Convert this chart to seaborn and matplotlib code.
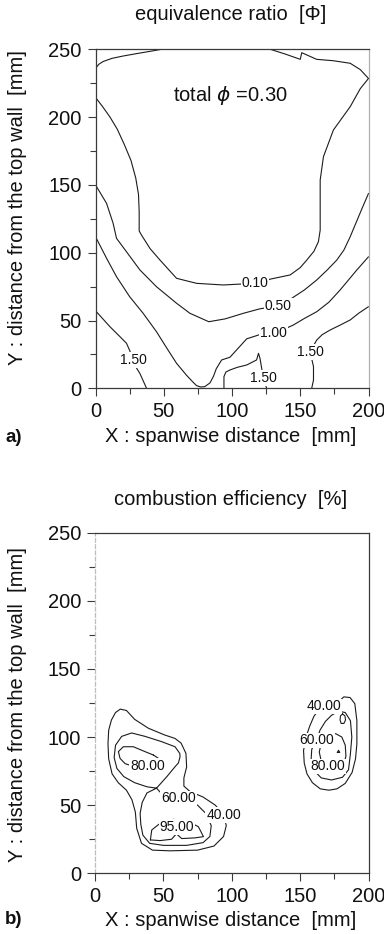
import matplotlib
matplotlib.use("Agg")
import matplotlib.pyplot as plt
import seaborn as sns
import pandas as pd
from matplotlib.ticker import MultipleLocator

sns.set_theme(style="ticks")
plt.rcParams["font.family"] = ["Liberation Sans", "DejaVu Sans"]
plt.rcParams["mathtext.fontset"] = "dejavusans"

# ---------------- panel a: equivalence ratio contours (x, y in mm) ----------------
PHI_CAP_LEFT_X = [0, 2.5, 5.6, 12, 20, 30, 40, 48.4]
PHI_CAP_LEFT_Y = [236, 239, 241, 243.3, 245, 246.8, 248.5, 250]

PHI_CAP_RIGHT_X = [128, 139, 150, 151.1, 162, 174, 186.6, 194, 200]
PHI_CAP_RIGHT_Y = [250, 246.5, 242.6, 247.5, 242.6, 241.6, 239.7, 235, 228.5]

PHI_010_X = [0, 5, 10.5, 16, 21, 26, 29.5, 31.5, 32, 32, 33.7, 40, 47.2, 59.4, 74.1,
             93.6, 105, 116.9, 128, 142.6, 150, 154.8, 160, 163.3, 164.6, 164.6, 167,
             174.3, 186.6, 194, 200]
PHI_010_Y = [214.5, 208, 200.2, 191, 180, 168, 155, 143, 130, 116, 113, 103, 94.6, 81.1,
             77.4, 76.2, 76.8, 77.3, 80.5, 83.6, 89, 94.6, 101, 108.1, 116.6, 153.6,
             170.8, 190.5, 207.7, 221, 228.5]

PHI_050_X = [0, 8.1, 12.9, 15.4, 22.7, 32.5, 44.7, 59.4, 69.2, 83, 95, 108.3, 120, 134,
             143.8, 153, 162.1, 170, 176.8, 182, 186.6, 190, 195, 200]
PHI_050_Y = [150, 136.4, 121.7, 110.6, 100.7, 87.3, 74.9, 62.7, 55.3, 49.1, 51.2, 55.3,
             58.5, 61, 66.4, 72.5, 79.9, 87.5, 94.6, 102, 111.8, 120, 132, 143.7]

PHI_100_X = [0, 8.1, 15.4, 25, 34.9, 44.7, 52, 59.4, 66.7, 71, 74, 77, 80, 83.9, 86.5,
             88.5, 92.4, 98.5, 103.4, 110.8, 121, 130.3, 138, 145, 153, 162.1, 171,
             179.2, 191.4, 200]
PHI_100_Y = [111.8, 95.9, 82.3, 67.6, 55.3, 41.7, 30, 18.4, 9.6, 5, 2, 1, 1.2, 4, 9,
             14.5, 20.9, 22.9, 28.3, 36.5, 39.8, 40.5, 43.5, 46.7, 51.5, 56.5, 63.5,
             72.5, 87.2, 97]

PHI_150_LEFT_X = [0, 10.5, 18, 22.7, 25, 27.6, 30, 32.5, 37.4]
PHI_150_LEFT_Y = [57.2, 45.5, 38, 33.2, 28, 20.9, 15, 11, 0]

PHI_150_MID_X = [94.1, 94.1, 95.5, 98.5, 104, 110.8, 118, 119.4, 120.5, 123, 125.4]
PHI_150_MID_Y = [0, 8.6, 12, 13.5, 15.5, 17.2, 20.9, 25.8, 22.1, 7.4, 0]

PHI_150_RIGHT_X = [200, 193, 186.6, 179, 171.9, 166, 162.1, 157.2, 159.7, 159.7, 158.4]
PHI_150_RIGHT_Y = [60.2, 55.5, 50.4, 46.5, 43, 39.5, 35.6, 27, 16, 6.1, 0]

PHI_LABELS = ["0.10", "0.50", "1.00", "1.50", "1.50", "1.50"]
PHI_LABEL_X = [116.9, 134, 130.3, 27.6, 123, 157.2]
PHI_LABEL_Y = [77.3, 61, 40.5, 20.9, 7.4, 27]

# ---------------- panel b: combustion efficiency contours (x, y in mm) ----------------
EFF_40_LEFT_X = [94, 96, 94, 87, 75, 55, 42, 34, 30.5, 29.5, 27, 23, 17, 12.5, 10, 9.5,
                 10, 12, 15, 18.5, 23, 29, 39, 51, 58.5, 63, 66.5, 67, 65, 65, 69.5, 79,
                 88, 94]
EFF_40_LEFT_Y = [43, 35, 27, 20, 17, 16.5, 17, 22, 33, 45, 54, 61, 66.5, 73, 84, 95,
                 105, 112.5, 118, 120.5, 119.5, 113, 106.5, 101.5, 99, 95.5, 88, 78, 70,
                 64, 60, 56, 50, 43]

EFF_60_LEFT_X = [45, 38, 29, 21, 16, 14, 15, 19.5, 26.8, 36.6, 48.8, 58.5, 62, 62.2, 61,
                 58.5, 52.5, 45, 50, 55, 61, 68, 75, 81, 85, 84, 79, 67, 50, 40, 35,
                 33.5, 33, 34.5, 38, 45]
EFF_60_LEFT_Y = [62.5, 63.5, 66.5, 71, 77, 85, 94, 100.5, 103, 100.5, 96.6, 92.9, 88,
                 85.6, 81, 78.2, 70.9, 62.5, 57, 55, 55, 53.5, 50, 44, 35, 27, 22.5,
                 20.5, 20.5, 22, 28, 36, 44, 52, 59, 62.5]

EFF_80_LEFT_X = [42.7, 36.6, 28, 20.7, 17.1, 18.3, 22, 28, 38.5, 46, 47, 42.7]
EFF_80_LEFT_Y = [86.8, 89.3, 92.9, 92.9, 89.3, 84.4, 80.5, 78.5, 78.5, 80, 84, 86.8]

EFF_95_X = [40.5, 41.5, 47.6, 57.3, 67, 75.6, 79.3, 73.2, 63.4, 59.5, 56, 47.6, 40.5]
EFF_95_Y = [24.5, 31.8, 36.7, 39.6, 38.6, 34.2, 26.9, 26, 25.5, 29, 25, 24, 24.5]

EFF_40_RIGHT_X = [167.5, 177, 182, 186.5, 190, 191.5, 191.5, 190.5, 188, 183, 177, 171,
                  164.7, 159, 155, 153, 152.5, 154, 157, 160, 163, 167.5]
EFF_40_RIGHT_Y = [122.5, 125, 129.5, 129, 124.5, 112, 95, 84, 74, 66, 62, 61, 62, 66.5,
                  73, 81, 90, 99, 108, 115, 119.5, 122.5]

EFF_60_RIGHT_X = [162, 164.5, 168.5, 173, 178, 183, 186.8, 187.8, 186.8, 185.4, 181, 173,
                  165.5, 160.5, 158, 158.5, 162]
EFF_60_RIGHT_Y = [97.5, 105, 111.5, 116, 119, 118, 112, 100, 88, 76, 70.5, 68.5, 70, 75,
                  83, 91, 97.5]

EFF_80_RIGHT_X = [170, 165.5, 164, 165.5, 170, 176, 180.5, 183, 183.5, 182, 178, 170]
EFF_80_RIGHT_Y = [78.5, 82, 89, 96, 101, 102.5, 100, 94, 86, 80.5, 78, 78.5]

EFF_ISLAND_X = [181, 182.8, 183.2, 182, 180, 179.2, 179.5, 181]
EFF_ISLAND_Y = [117, 115.5, 112.5, 110, 110, 112.5, 115.5, 117]

EFF_PEAK_X = [177.2, 178.1, 179, 177.2]
EFF_PEAK_Y = [88.7, 90.3, 88.7, 88.7]

EFF_LABELS = ["80.00", "60.00", "40.00", "95.00", "40.00", "60.00", "80.00"]
EFF_LABEL_X = [38.5, 61, 94, 59.8, 167.5, 162, 170]
EFF_LABEL_Y = [78.8, 55, 43, 34.2, 122.5, 97.5, 78.5]

AXIS_TICKS_X = [0, 50, 100, 150, 200]
AXIS_TICKS_Y = [0, 50, 100, 150, 200, 250]

LINE = "#1c1c1c"
SPINE = "#3a3a3a"
BIG = 14.5

W, H = 384, 934
fig = plt.figure(figsize=(W / 100, H / 100), dpi=100)
fig.patch.set_facecolor("white")

ax_a = fig.add_axes([95.5 / W, 1 - 388.3 / H, 273 / W, 339 / H])
ax_b = fig.add_axes([95.0 / W, 1 - 873.3 / H, 273.5 / W, 340.6 / H])


def draw_lines(ax, lines):
    for xs, ys in lines:
        df = pd.DataFrame({"x": xs, "y": ys})
        sns.lineplot(data=df, x="x", y="y", sort=False, estimator=None, ax=ax,
                     color=LINE, lw=0.8, legend=False)


def draw_labels(ax, texts, xs, ys):
    for s, x, y in zip(texts, xs, ys):
        ax.text(x, y, s, fontsize=10, ha="center", va="center", color="#111111",
                zorder=5, bbox=dict(boxstyle="square,pad=0.06", fc="white", ec="none"))


def style_axes(ax):
    ax.set_xlim(0, 200)
    ax.set_ylim(0, 250)
    ax.set_xticks(AXIS_TICKS_X)
    ax.set_yticks(AXIS_TICKS_Y)
    ax.xaxis.set_minor_locator(MultipleLocator(25))
    ax.yaxis.set_minor_locator(MultipleLocator(25))
    ax.tick_params(which="major", direction="out", length=5.5, width=0.8,
                   color=SPINE, labelsize=BIG, labelcolor="#111111", pad=4.5)
    ax.tick_params(which="minor", direction="out", length=4.5, width=0.8, color=SPINE)
    ax.set_xlabel("")
    ax.set_ylabel("")
    for sp in ax.spines.values():
        sp.set_visible(True)
        sp.set_color(SPINE)
        sp.set_linewidth(0.9)
    ax.set_facecolor("white")


draw_lines(ax_a, [
    (PHI_CAP_LEFT_X, PHI_CAP_LEFT_Y),
    (PHI_CAP_RIGHT_X, PHI_CAP_RIGHT_Y),
    (PHI_010_X, PHI_010_Y),
    (PHI_050_X, PHI_050_Y),
    (PHI_100_X, PHI_100_Y),
    (PHI_150_LEFT_X, PHI_150_LEFT_Y),
    (PHI_150_MID_X, PHI_150_MID_Y),
    (PHI_150_RIGHT_X, PHI_150_RIGHT_Y),
])
draw_labels(ax_a, PHI_LABELS, PHI_LABEL_X, PHI_LABEL_Y)
ax_a.text(98.5, 216, "total $\\phi$ =0.30", fontsize=BIG, ha="center", va="center",
          color="#111111")
style_axes(ax_a)
ax_a.spines["right"].set_color("#b0b0b0")

draw_lines(ax_b, [
    (EFF_40_LEFT_X, EFF_40_LEFT_Y),
    (EFF_60_LEFT_X, EFF_60_LEFT_Y),
    (EFF_80_LEFT_X, EFF_80_LEFT_Y),
    (EFF_95_X, EFF_95_Y),
    (EFF_40_RIGHT_X, EFF_40_RIGHT_Y),
    (EFF_60_RIGHT_X, EFF_60_RIGHT_Y),
    (EFF_80_RIGHT_X, EFF_80_RIGHT_Y),
    (EFF_ISLAND_X, EFF_ISLAND_Y),
    (EFF_PEAK_X, EFF_PEAK_Y),
])
draw_labels(ax_b, EFF_LABELS, EFF_LABEL_X, EFF_LABEL_Y)
style_axes(ax_b)
ax_b.spines["left"].set_color("#bdbdbd")
ax_b.spines["left"].set_linestyle((0, (3, 2)))

# panel titles, axis titles and panel letters
TXT = dict(color="#111111", ha="center", va="center")
fig.text(231 / W, 1 - 14 / H, "equivalence ratio  [\u03a6]", fontsize=BIG, **TXT)
fig.text(231 / W, 1 - 437 / H, "X : spanwise distance  [mm]", fontsize=BIG, **TXT)
fig.text(18 / W, 1 - 208 / H, "Y : distance from the top wall  [mm]", fontsize=BIG,
         rotation=90, **TXT)
fig.text(14 / W, 1 - 438 / H, "a)", fontsize=13.5, fontweight="bold", **TXT)

fig.text(231 / W, 1 - 499 / H, "combustion efficiency  [%]", fontsize=BIG, **TXT)
fig.text(231 / W, 1 - 920 / H, "X : spanwise distance  [mm]", fontsize=BIG, **TXT)
fig.text(18 / W, 1 - 705 / H, "Y : distance from the top wall  [mm]", fontsize=BIG,
         rotation=90, **TXT)
fig.text(14 / W, 1 - 920 / H, "b)", fontsize=13.5, fontweight="bold", **TXT)

fig.savefig("out.png", dpi=100, facecolor="white")
